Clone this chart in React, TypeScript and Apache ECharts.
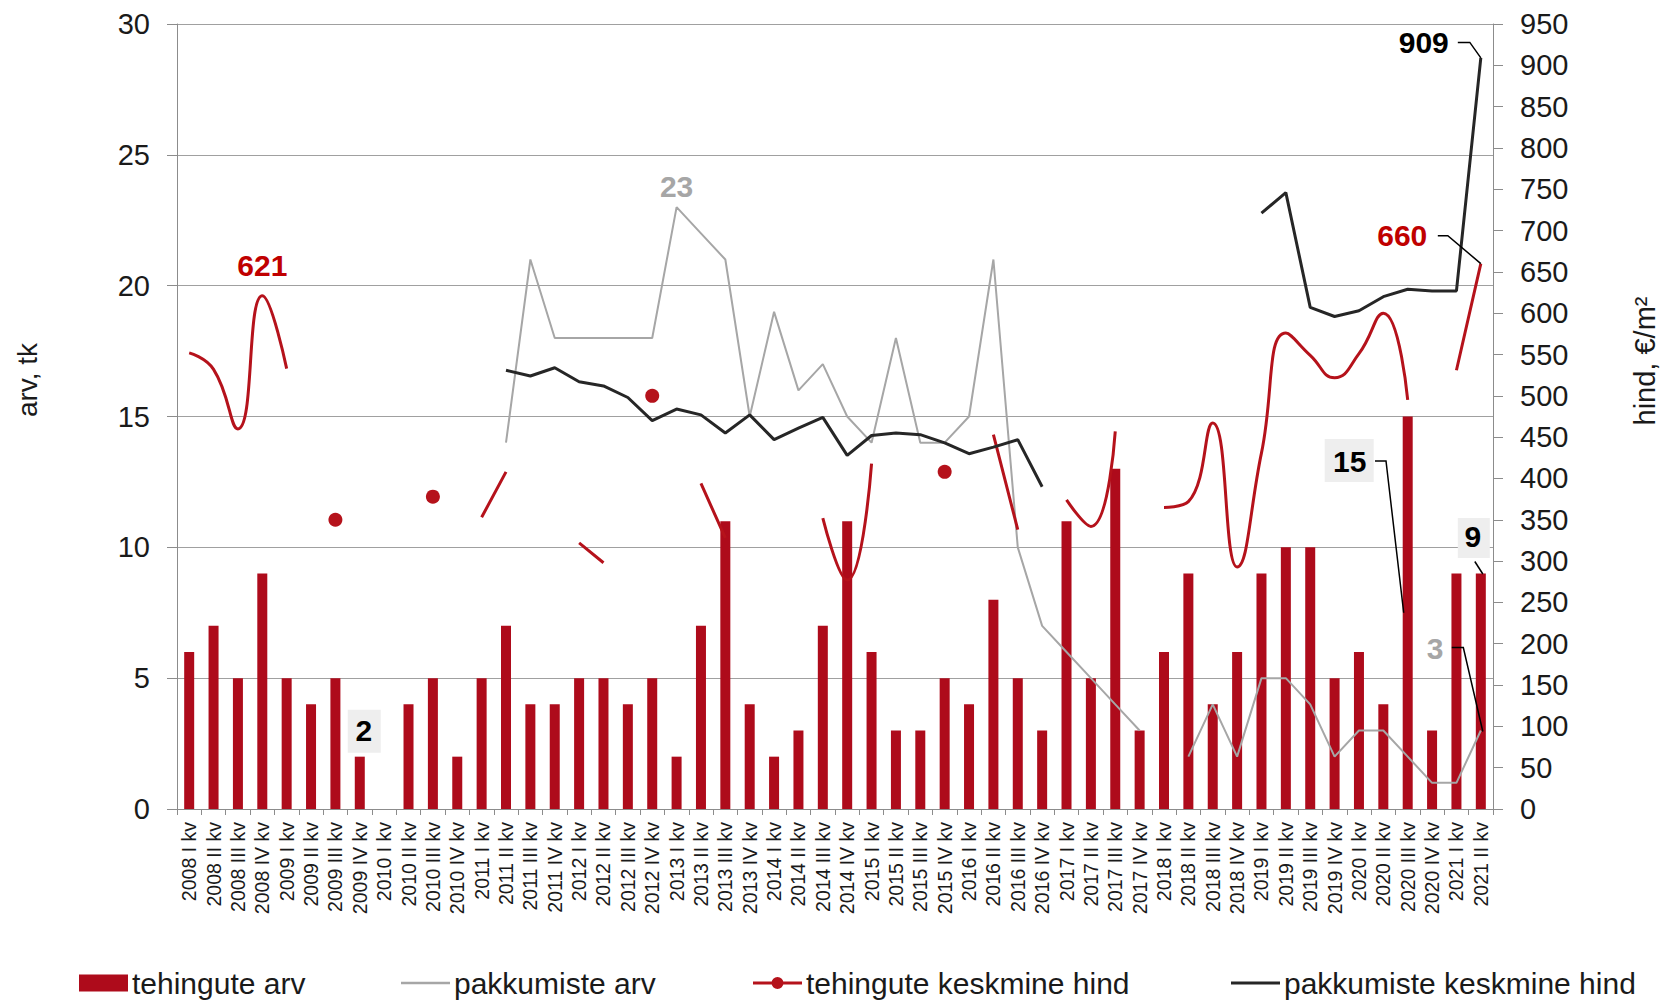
import React, { useEffect, useRef } from "react";
import * as echarts from "echarts";

// ---------- data ----------
const categories: string[] = [
  "2008 I kv", "2008 II kv", "2008 III kv", "2008 IV kv",
  "2009 I kv", "2009 II kv", "2009 III kv", "2009 IV kv",
  "2010 I kv", "2010 II kv", "2010 III kv", "2010 IV kv",
  "2011 I kv", "2011 II kv", "2011 III kv", "2011 IV kv",
  "2012 I kv", "2012 II kv", "2012 III kv", "2012 IV kv",
  "2013 I kv", "2013 II kv", "2013 III kv", "2013 IV kv",
  "2014 I kv", "2014 II kv", "2014 III kv", "2014 IV kv",
  "2015 I kv", "2015 II kv", "2015 III kv", "2015 IV kv",
  "2016 I kv", "2016 II kv", "2016 III kv", "2016 IV kv",
  "2017 I kv", "2017 II kv", "2017 III kv", "2017 IV kv",
  "2018 I kv", "2018 II kv", "2018 III kv", "2018 IV kv",
  "2019 I kv", "2019 II kv", "2019 III kv", "2019 IV kv",
  "2020 I kv", "2020 II kv", "2020 III kv", "2020 IV kv",
  "2021 I kv", "2021 II kv",
];

// tehingute arv (left axis, bars)
const deals: (number | null)[] = [
  6, 7, 5, 9,
  5, 4, 5, 2,
  null, 4, 5, 2,
  5, 7, 4, 4,
  5, 5, 4, 5,
  2, 7, 11, 4,
  2, 3, 7, 11,
  6, 3, 3, 5,
  4, 8, 5, 3,
  11, 5, 13, 3,
  6, 9, 4, 6,
  9, 10, 10, 5,
  6, 4, 15, 3,
  9, 9,
];

// pakkumiste arv (left axis, grey line)
const offers: (number | null)[] = [
  null, null, null, null,
  null, null, null, null,
  null, null, null, null,
  null, 14, 21, 18,
  18, 18, 18, 18,
  23, 22, 21, 15,
  19, 16, 17, 15,
  14, 18, 14, 14,
  15, 21, 10, 7,
  6, 5, 4, 3,
  null, 2, 4, 2,
  5, 5, 4, 2,
  3, 3, 2, 1,
  1, 3,
];

// tehingute keskmine hind (right axis, red line)
const dealPrice: (number | null)[] = [
  552, 532, 460, 621,
  533, null, 350, null,
  null, null, 378, null,
  353, 408, null, null,
  322, 298, null, 500,
  null, 394, 328, null,
  null, null, 352, 277,
  418, null, null, 408,
  null, 453, 338, null,
  374, 342, 457, null,
  365, 372, 467, 293,
  431, 576, 549, 522,
  551, 600, 495, null,
  531, 660,
];

// pakkumiste keskmine hind (right axis, black line)
const askPrice: (number | null)[] = [
  null, null, null, null,
  null, null, null, null,
  null, null, null, null,
  null, 531, 524, 534,
  517, 512, 498, 470,
  484, 477, 455, 477,
  447, 461, 474, 428,
  452, 455, 453, 443,
  430, 438, 447, 390,
  null, null, null, null,
  null, null, null, null,
  721, 746, 607, 596,
  603, 620, 629, 627,
  627, 909,
];

const leftTicks = { min: 0, max: 30, interval: 5 };
const rightTicks = { min: 0, max: 950, interval: 50 };

const seriesNames = [
  "tehingute arv",
  "pakkumiste arv",
  "tehingute keskmine hind",
  "pakkumiste keskmine hind",
];

// ---------- styles ----------
const FONT = '"Liberation Sans", Arial, sans-serif';
const BAR_RED = "#ae0b1b";
const LINE_RED = "#b5121b";
const LABEL_RED = "#c00000";
const GREY = "#a6a6a6";
const DARK = "#262626";
const AXIS = "#8c8c8c";

type Callout = {
  values: (number | null)[];
  idx: number;
  color: string;
  tx: number;
  ty: number;
  align: "left" | "center" | "right";
  box?: [number, number, number, number];
  leader?: [number, number][];
  toMid?: boolean;
};

// callouts on the left axis
const leftCallouts: Callout[] = [
  { values: offers, idx: 20, color: GREY, tx: 0, ty: -21, align: "center" },
  { values: deals, idx: 7, color: "#000", tx: 4, ty: -26, align: "center", box: [-12, -47, 33, 43] },
  {
    values: deals, idx: 50, color: "#000", tx: -58, ty: 44.5, align: "center",
    box: [-83, 22.5, 49, 43], leader: [[-32.7, 44.5], [-21.7, 44.5], [-4, 0]], toMid: true,
  },
  {
    values: deals, idx: 53, color: "#000", tx: -8, ty: -37, align: "center",
    box: [-23, -55.5, 32, 40], leader: [[-6, -12], [2, 0.5]],
  },
  {
    values: offers, idx: 53, color: GREY, tx: -37.5, ty: -82, align: "right",
    leader: [[-29, -83], [-17.5, -83], [2, 1]],
  },
];

// callouts on the right axis
const rightCallouts: Callout[] = [
  { values: dealPrice, idx: 3, color: LABEL_RED, tx: 0, ty: -30, align: "center" },
  {
    values: askPrice, idx: 53, color: "#000", tx: -32, ty: -15.5, align: "right",
    leader: [[-23, -15.5], [-11, -15.5], [0, 0]],
  },
  {
    values: dealPrice, idx: 53, color: LABEL_RED, tx: -53.5, ty: -28.5, align: "right",
    leader: [[-43, -28], [-33, -28], [0, 0]],
  },
];

const makeRenderer = (layouts: Callout[]) => (params: any, api: any) => {
  const L = layouts[params.dataIndex];
  const idx = api.value(0);
  const v = api.value(1);
  const p = api.coord([idx, v]);
  const children: any[] = [];
  if (L.box) {
    children.push({
      type: "rect",
      shape: { x: p[0] + L.box[0], y: p[1] + L.box[1], width: L.box[2], height: L.box[3] },
      style: { fill: "#eeeeee" },
    });
  }
  if (L.leader) {
    const end = L.toMid ? api.coord([idx, v / 2]) : p;
    const n = L.leader.length;
    const pts = L.leader.map(([dx, dy], i) =>
      i === n - 1 ? [end[0] + dx, end[1] + dy] : [p[0] + dx, p[1] + dy]
    );
    children.push({
      type: "polyline",
      shape: { points: pts },
      style: { stroke: "#000", lineWidth: 1.5, fill: null },
    });
  }
  children.push({
    type: "text",
    x: p[0] + L.tx,
    y: p[1] + L.ty,
    style: {
      text: String(v),
      fill: L.color,
      fontSize: 30,
      fontWeight: "bold",
      fontFamily: FONT,
      align: L.align,
      verticalAlign: "middle",
    },
  });
  return { type: "group", children };
};

const isIsolated = (arr: (number | null)[], i: number) =>
  arr[i] != null && (i === 0 || arr[i - 1] == null) && (i === arr.length - 1 || arr[i + 1] == null);

export default function App() {
  const ref = useRef<HTMLDivElement>(null);

  useEffect(() => {
    if (!ref.current) return;
    const chart = echarts.init(ref.current, null, { renderer: "svg" });

    const legendCommon = {
      top: 963,
      itemWidth: 49,
      itemHeight: 17,
      itemGap: 0,
      textStyle: { fontSize: 30, color: "#1a1a1a", fontFamily: FONT, padding: [0, 0, 0, -1] },
      selectedMode: false,
    };

    const option: any = {
      animation: false,
      backgroundColor: "#ffffff",
      textStyle: { fontFamily: FONT },
      grid: { left: 177, right: 170, top: 24, bottom: 194, containLabel: false },
      legend: [
        { ...legendCommon, left: 74, data: [{ name: seriesNames[0], icon: "rect" }] },
        { ...legendCommon, left: 396, data: [{ name: seriesNames[1], icon: "path://M0,0h49v2.5H0z" }] },
        {
          ...legendCommon,
          left: 748,
          data: [
            {
              name: seriesNames[2],
              icon: "path://M0,5h49v3H0z M18.5,6.5a6,6 0 1,1 12,0a6,6 0 1,1 -12,0z",
            },
          ],
        },
        { ...legendCommon, left: 1226, data: [{ name: seriesNames[3], icon: "path://M0,0h49v3H0z" }] },
      ],
      xAxis: {
        type: "category",
        data: categories,
        boundaryGap: true,
        axisLine: { lineStyle: { color: AXIS, width: 1 } },
        axisTick: { show: true, interval: 0, length: 6, lineStyle: { color: AXIS } },
        axisLabel: {
          interval: 0,
          rotate: 90,
          fontSize: 19.5,
          color: "#1a1a1a",
          margin: 13,
          fontFamily: FONT,
        },
        splitLine: { show: false },
      },
      yAxis: [
        {
          type: "value",
          position: "left",
          ...leftTicks,
          axisLine: { show: true, lineStyle: { color: AXIS } },
          axisTick: { show: true, length: 10, lineStyle: { color: AXIS } },
          axisLabel: { fontSize: 29, color: "#1a1a1a", margin: 27, fontFamily: FONT },
          splitLine: { show: true, lineStyle: { color: "#a0a0a0", width: 1 } },
        },
        {
          type: "value",
          position: "right",
          ...rightTicks,
          axisLine: { show: true, lineStyle: { color: AXIS } },
          axisTick: { show: true, length: 10, lineStyle: { color: AXIS } },
          axisLabel: { fontSize: 29, color: "#1a1a1a", margin: 27, fontFamily: FONT },
          splitLine: { show: false },
        },
      ],
      graphic: [
        {
          type: "text",
          x: 27,
          y: 380,
          rotation: Math.PI / 2,
          style: {
            text: "arv, tk",
            fontSize: 28,
            fill: "#1a1a1a",
            fontFamily: FONT,
            align: "center",
            verticalAlign: "middle",
          },
        },
        {
          type: "text",
          x: 1645,
          y: 361,
          rotation: Math.PI / 2,
          style: {
            text: "hind, €/m²",
            fontSize: 29,
            fill: "#1a1a1a",
            fontFamily: FONT,
            align: "center",
            verticalAlign: "middle",
          },
        },
      ],
      series: [
        {
          name: seriesNames[0],
          type: "bar",
          yAxisIndex: 0,
          data: deals,
          barWidth: 10,
          itemStyle: { color: BAR_RED },
          z: 2,
        },
        {
          name: seriesNames[1],
          type: "line",
          yAxisIndex: 0,
          data: offers,
          symbol: "none",
          connectNulls: false,
          lineStyle: { color: GREY, width: 2 },
          itemStyle: { color: GREY },
          z: 3,
        },
        {
          name: seriesNames[2],
          type: "line",
          yAxisIndex: 1,
          data: dealPrice.map((v, i) => (isIsolated(dealPrice, i) ? { value: v, symbolSize: 14 } : v)),
          smooth: true,
          symbol: "circle",
          symbolSize: 0,
          showSymbol: true,
          showAllSymbol: true,
          connectNulls: false,
          lineStyle: { color: LINE_RED, width: 3 },
          itemStyle: { color: LINE_RED },
          z: 4,
        },
        {
          name: seriesNames[3],
          type: "line",
          yAxisIndex: 1,
          data: askPrice,
          symbol: "none",
          connectNulls: false,
          lineStyle: { color: DARK, width: 3 },
          itemStyle: { color: DARK },
          z: 5,
        },
        {
          name: "callouts-left",
          type: "custom",
          yAxisIndex: 0,
          silent: true,
          clip: false,
          z: 20,
          encode: { x: 0, y: 1 },
          data: leftCallouts.map((c) => [c.idx, c.values[c.idx]]),
          renderItem: makeRenderer(leftCallouts),
        },
        {
          name: "callouts-right",
          type: "custom",
          yAxisIndex: 1,
          silent: true,
          clip: false,
          z: 20,
          encode: { x: 0, y: 1 },
          data: rightCallouts.map((c) => [c.idx, c.values[c.idx]]),
          renderItem: makeRenderer(rightCallouts),
        },
      ],
    };

    chart.setOption(option);
    return () => chart.dispose();
  }, []);

  return (
    <div
      ref={ref}
      style={{ position: "absolute", left: 0, top: 0, width: 1663, height: 1003, background: "#fff" }}
    />
  );
}
